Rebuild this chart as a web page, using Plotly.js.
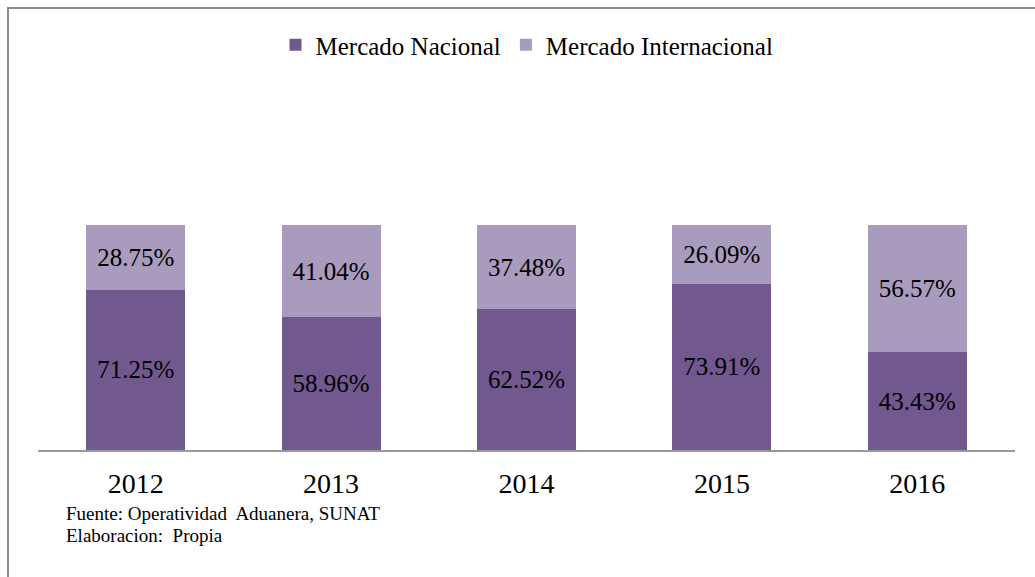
<!DOCTYPE html>
<html>
<head>
<meta charset="utf-8">
<script src="https://cdn.plot.ly/plotly-3.0.1.min.js"></script>
<style>
html,body{margin:0;padding:0;background:#fff;}
#chart{width:1035px;height:577px;}
</style>
</head>
<body>
<div id="chart"></div>
<script>
const years = ['2012', '2013', '2014', '2015', '2016'];
const nacional = [71.25, 58.96, 62.52, 73.91, 43.43];
const internacional = [28.75, 41.04, 37.48, 26.09, 56.57];
const seriesNames = ['Mercado Nacional', 'Mercado Internacional'];
const footnotes = ['Fuente: Operatividad  Aduanera, SUNAT', 'Elaboracion:  Propia'];

const FONT = 'Liberation Serif, Times New Roman, serif';
const DARK = '#71588F';
const LIGHT = '#A99BBD';

const traces = [
  {
    type: 'bar', name: seriesNames[0], x: years, y: nacional,
    marker: {color: DARK},
    texttemplate: '%{y:.2f}%', textposition: 'inside', insidetextanchor: 'middle',
    textfont: {family: FONT, size: 25, color: '#000'},
    hoverinfo: 'skip'
  },
  {
    type: 'bar', name: seriesNames[1], x: years, y: internacional,
    marker: {color: LIGHT},
    texttemplate: '%{y:.2f}%', textposition: 'inside', insidetextanchor: 'middle',
    textfont: {family: FONT, size: 25, color: '#000'},
    hoverinfo: 'skip'
  }
];

const layout = {
  width: 1035, height: 577,
  margin: {l: 38, r: 20, t: 225, b: 127, pad: 0},
  paper_bgcolor: '#fff', plot_bgcolor: '#fff',
  barmode: 'stack',
  bargap: 0.493,
  font: {family: FONT, color: '#000'},
  showlegend: true,
  legend: {
    orientation: 'h', x: 0.5005, xanchor: 'center', y: 1.8, yanchor: 'middle',
    font: {family: FONT, size: 25, color: '#000'},
    traceorder: 'normal', bgcolor: 'rgba(0,0,0,0)'
  },
  xaxis: {
    type: 'category', range: [-0.5, 4.5],
    showline: true, linecolor: '#999', linewidth: 2,
    showgrid: false, zeroline: false, ticks: '',
    tickfont: {family: FONT, size: 28, color: '#000'},
    ticklabelstandoff: 7,
    fixedrange: true
  },
  yaxis: {
    range: [0, 100], visible: false, showgrid: false, zeroline: false, fixedrange: true
  },
  shapes: [
    {type: 'rect', xref: 'paper', yref: 'paper',
     x0: -0.0307, x1: 1.2, y0: -2, y1: 1.9644,
     line: {color: '#8c8c8c', width: 2}, fillcolor: 'rgba(0,0,0,0)', layer: 'above'}
  ],
  annotations: [
    {xref: 'paper', yref: 'paper', x: 0.0266, y: -0.2844, xanchor: 'left', yanchor: 'middle',
     text: footnotes[0], showarrow: false, font: {family: FONT, size: 19, color: '#000'}},
    {xref: 'paper', yref: 'paper', x: 0.0266, y: -0.3778, xanchor: 'left', yanchor: 'middle',
     text: footnotes[1], showarrow: false, font: {family: FONT, size: 19, color: '#000'}}
  ]
};

Plotly.newPlot('chart', traces, layout, {displayModeBar: false, staticPlot: true});
</script>
</body>
</html>
